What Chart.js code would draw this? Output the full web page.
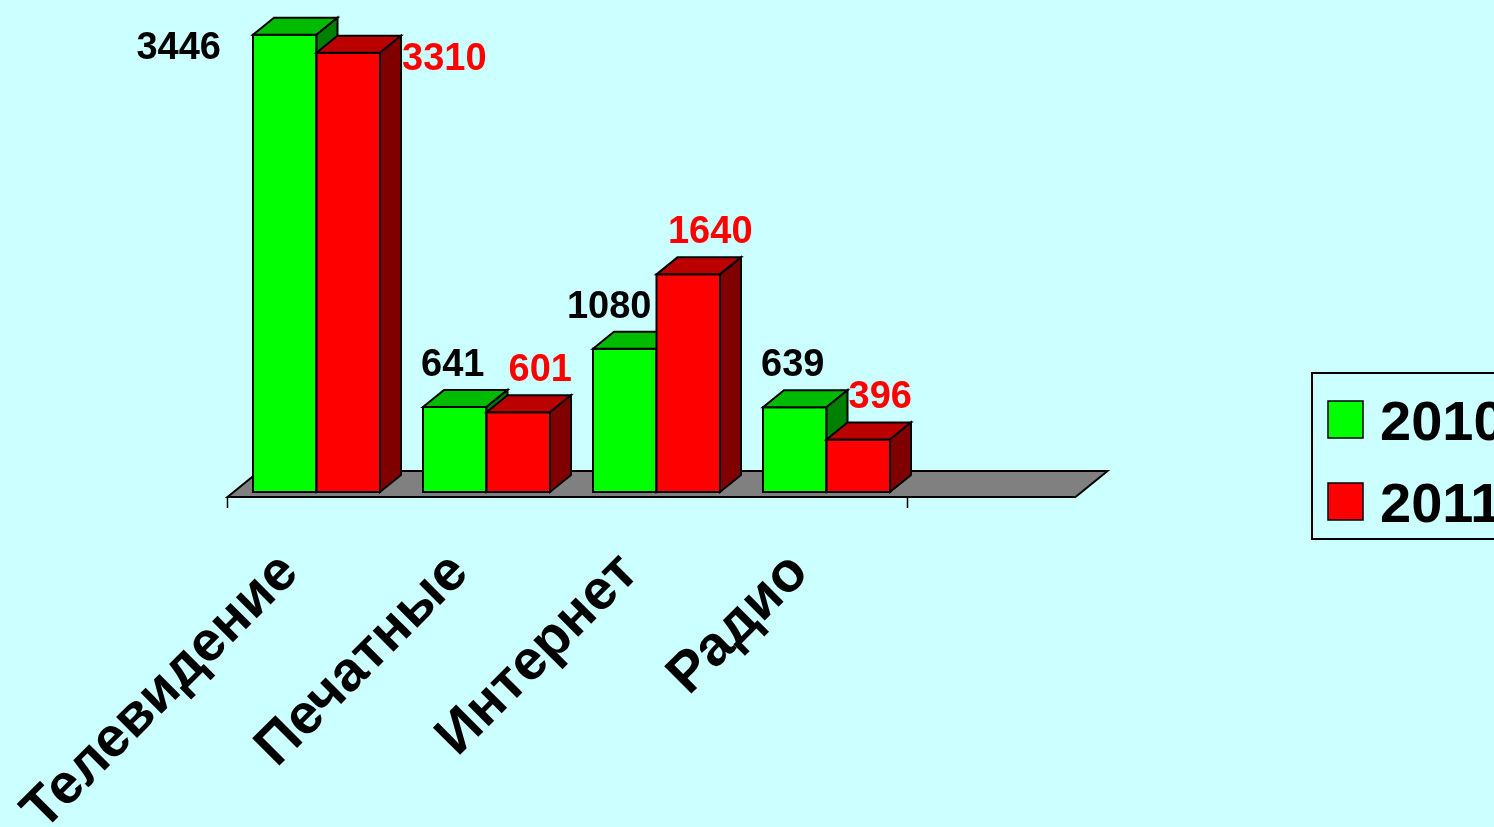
<!DOCTYPE html>
<html>
<head>
<meta charset="utf-8">
<script src="https://cdn.jsdelivr.net/npm/chart.js@4.4.0/dist/chart.umd.min.js"></script>
<style>
html,body{margin:0;padding:0;background:#CCFFFF;overflow:hidden;}
#wrap{width:1494px;height:827px;position:relative;}
</style>
</head>
<body>
<div id="wrap"><canvas id="c" width="1494" height="827"></canvas></div>
<script>
// ---- data ----
const categories = ['Телевидение', 'Печатные', 'Интернет', 'Радио'];
const seriesNames = ['2010', '2011'];
const values2010 = [3446, 641, 1080, 639];
const values2011 = [3310, 601, 1640, 396];
const yMin = 0;
const yMax = 3700;

// ---- styling ----
const FONT = '"Liberation Sans", Arial, Helvetica, sans-serif';
const frontColors = ['#00FF00', '#FF0000'];
const topColors = ['#00BB00', '#BB0000'];
const sideColors = ['#008000', '#800000'];
const labelColors = ['#000000', '#FF0000'];
const BAR_D = { dx: 21, dy: -17 };
const FLOOR_D = { dx: 32, dy: -26 };

function poly(ctx, pts, fill) {
  ctx.beginPath();
  ctx.moveTo(pts[0][0], pts[0][1]);
  for (let i = 1; i < pts.length; i++) ctx.lineTo(pts[i][0], pts[i][1]);
  ctx.closePath();
  ctx.fillStyle = fill;
  ctx.fill();
  ctx.stroke();
}

function barProps(chart, d, i) {
  const el = chart.getDatasetMeta(d).data[i];
  return el ? el.getProps(['x', 'y', 'base', 'width'], true) : null;
}

const threeD = {
  id: 'threeD',
  beforeDatasetsDraw(chart) {
    const { ctx, chartArea: a, scales: { x } } = chart;
    const catW = x.width / categories.length;
    const fy = a.bottom + 5;
    const fl = a.left - 4;
    const fr = a.right - 6 + catW;
    ctx.save();
    ctx.lineWidth = 2;
    ctx.strokeStyle = '#000';
    ctx.lineJoin = 'miter';
    poly(ctx, [[fl, fy], [fl + FLOOR_D.dx, fy + FLOOR_D.dy], [fr + FLOOR_D.dx, fy + FLOOR_D.dy], [fr, fy]], '#808080');
    ctx.lineWidth = 1.5;
    [fl, a.right - 4].forEach(tx => {
      ctx.beginPath();
      ctx.moveTo(tx, fy);
      ctx.lineTo(tx, fy + 11);
      ctx.stroke();
    });
    ctx.restore();
  },
  afterDatasetsDraw(chart) {
    const { ctx } = chart;
    ctx.save();
    ctx.lineWidth = 2;
    ctx.strokeStyle = '#000';
    ctx.lineJoin = 'miter';
    const n = chart.data.labels.length;
    for (let i = 0; i < n; i++) {
      for (let d = 0; d < chart.data.datasets.length; d++) {
        const p = barProps(chart, d, i);
        if (!p) continue;
        const l = p.x - p.width / 2, r = p.x + p.width / 2, t = p.y, b = p.base;
        const dx = BAR_D.dx, dy = BAR_D.dy;
        poly(ctx, [[l, t], [r, t], [r, b], [l, b]], frontColors[d]);
        poly(ctx, [[l, t], [l + dx, t + dy], [r + dx, t + dy], [r, t]], topColors[d]);
        poly(ctx, [[r, t], [r + dx, t + dy], [r + dx, b + dy], [r, b]], sideColors[d]);
      }
    }
    ctx.restore();
  },
  afterDraw(chart) {
    const { ctx, chartArea: a } = chart;
    ctx.save();
    // data labels
    ctx.font = 'bold 38px ' + FONT;
    ctx.textBaseline = 'alphabetic';
    chart.data.datasets.forEach((ds, d) => {
      ds.data.forEach((v, i) => {
        const p = barProps(chart, d, i);
        const txt = String(v);
        const w = ctx.measureText(txt).width;
        ctx.fillStyle = labelColors[d];
        const baseY = p.y - 31;
        let cx;
        if (baseY - 28 < a.top) {
          if (d === 0) {
            ctx.textAlign = 'right';
            ctx.fillText(txt, p.x - p.width / 2 - 32, p.y + 24);
          } else {
            ctx.textAlign = 'left';
            ctx.fillText(txt, p.x + p.width / 2 + BAR_D.dx + 1, p.y + 17);
          }
          return;
        }
        if (d === 0) {
          cx = p.x - 2;
          const nb = barProps(chart, 1, i);
          if (nb && nb.y < baseY && cx + w / 2 > nb.x - nb.width / 2 - 3) {
            cx = nb.x - nb.width / 2 - 5 - w / 2;
          }
        } else {
          cx = p.x + 22;
        }
        ctx.textAlign = 'center';
        ctx.fillText(txt, cx, baseY);
      });
    });
    // legend
    ctx.lineWidth = 2;
    ctx.strokeStyle = '#000';
    ctx.strokeRect(1312, 373, 300, 166);
    ctx.font = 'bold 56px ' + FONT;
    ctx.textAlign = 'left';
    chart.data.datasets.forEach((ds, d) => {
      const yTop = 401 + d * 82;
      ctx.fillStyle = ds.backgroundColor;
      ctx.fillRect(1328, yTop, 35, 37);
      ctx.lineWidth = 1.5;
      ctx.strokeRect(1328, yTop, 35, 37);
      ctx.fillStyle = '#000';
      ctx.fillText(ds.label, 1380, yTop + 39);
    });
    ctx.restore();
  }
};

new Chart(document.getElementById('c'), {
  type: 'bar',
  data: {
    labels: categories,
    datasets: [
      { label: seriesNames[0], data: values2010, backgroundColor: frontColors[0], borderWidth: 0 },
      { label: seriesNames[1], data: values2011, backgroundColor: frontColors[1], borderWidth: 0 }
    ]
  },
  options: {
    responsive: false,
    animation: false,
    devicePixelRatio: 1,
    layout: { padding: { left: 231.5, right: 582.5, top: 1, bottom: 0 } },
    datasets: { bar: { categoryPercentage: 0.747, barPercentage: 1.0 } },
    plugins: { legend: { display: false }, tooltip: { enabled: false } },
    scales: {
      x: {
        offset: true,
        grid: { display: false, drawTicks: false },
        border: { display: false },
        ticks: {
          autoSkip: false,
          minRotation: 45,
          maxRotation: 45,
          padding: 48,
          labelOffset: -27,
          color: '#000',
          font: { family: FONT, size: 56, weight: 'bold' }
        },
        afterFit(s) { s.height = 335; s.paddingLeft = 0; s.paddingRight = 0; }
      },
      y: { display: false, min: yMin, max: yMax }
    }
  },
  plugins: [threeD]
});
</script>
</body>
</html>
